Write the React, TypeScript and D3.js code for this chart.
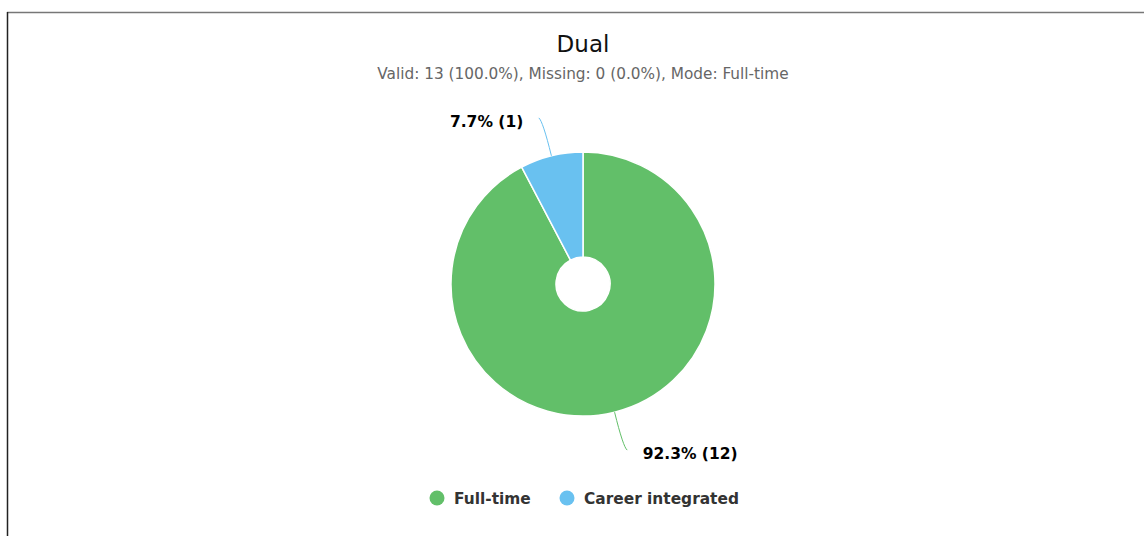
import React from "react";
import * as d3 from "d3";

const categories = ["Full-time", "Career integrated"];
const counts = [12, 1];
const colors = ["#62bf69", "#69c1f0"];
const title = "Dual";
const subtitle = "Valid: 13 (100.0%), Missing: 0 (0.0%), Mode: Full-time";

const W = 1144;
const H = 536;
const FONT = "'DejaVu Sans', sans-serif";

export default function App() {
  const cx = 583;
  const cy = 284;
  const R = 132;
  const r0 = 27;
  const total = d3.sum(counts);
  const data = categories.map((c, i) => ({ c, v: counts[i], color: colors[i] }));
  const pie = d3.pie<any>().value((d) => d.v).sort(null).startAngle(0).endAngle(2 * Math.PI);
  const arcs = pie(data);
  const arcGen = d3.arc<any>().innerRadius(r0).outerRadius(R);
  const pt = (a: number, rr: number) => [cx + rr * Math.sin(a), cy - rr * Math.cos(a)];

  return (
    <svg width={W} height={H} style={{ position: "absolute", left: 0, top: 0 }} fontFamily={FONT}>
      <rect x={0} y={0} width={W} height={H} fill="#fff" />
      <line x1={7} y1={12.5} x2={W} y2={12.5} stroke="#777" strokeWidth={1.5} />
      <line x1={7.5} y1={12} x2={7.5} y2={H} stroke="#222" strokeWidth={1.5} />
      <text x={cx} y={52} textAnchor="middle" fontSize={23} fill="#111">{title}</text>
      <text x={cx} y={79} textAnchor="middle" fontSize={15.3} fill="#666">{subtitle}</text>
      <g transform={`translate(${cx},${cy})`}>
        {arcs.map((a, i) => (
          <path key={i} d={arcGen(a) as string} fill={a.data.color} stroke="#fff" strokeWidth={1.5} />
        ))}
      </g>
      {arcs.map((a, i) => {
        const mid = (a.startAngle + a.endAngle) / 2;
        const right = Math.sin(mid) >= 0;
        const s = right ? 1 : -1;
        const p0 = pt(mid, R);
        const p1 = pt(mid, 168);
        const p2 = [p1[0] + s * 4, p1[1] + (right ? 3 : -3)];
        const pct = ((a.data.v / total) * 100).toFixed(1);
        return (
          <g key={i}>
            <path d={`M${p0[0]},${p0[1]} Q${p1[0]},${p1[1]} ${p2[0]},${p2[1]}`} fill="none" stroke={a.data.color} strokeWidth={1} />
            <text x={p2[0] + s * 15.5} y={p2[1] + (right ? 8.5 : 9.5)} textAnchor={right ? "start" : "end"} fontSize={15.5} fontWeight="bold" fill="#000">
              {`${pct}% (${a.data.v})`}
            </text>
          </g>
        );
      })}
      {(() => {
        const xs = [437, 567];
        return categories.map((c, i) => (
          <g key={c}>
            <circle cx={xs[i]} cy={498} r={7.5} fill={colors[i]} />
            <text x={xs[i] + 17} y={503.5} fontSize={15.4} fontWeight="bold" fill="#333">{c}</text>
          </g>
        ));
      })()}
    </svg>
  );
}
